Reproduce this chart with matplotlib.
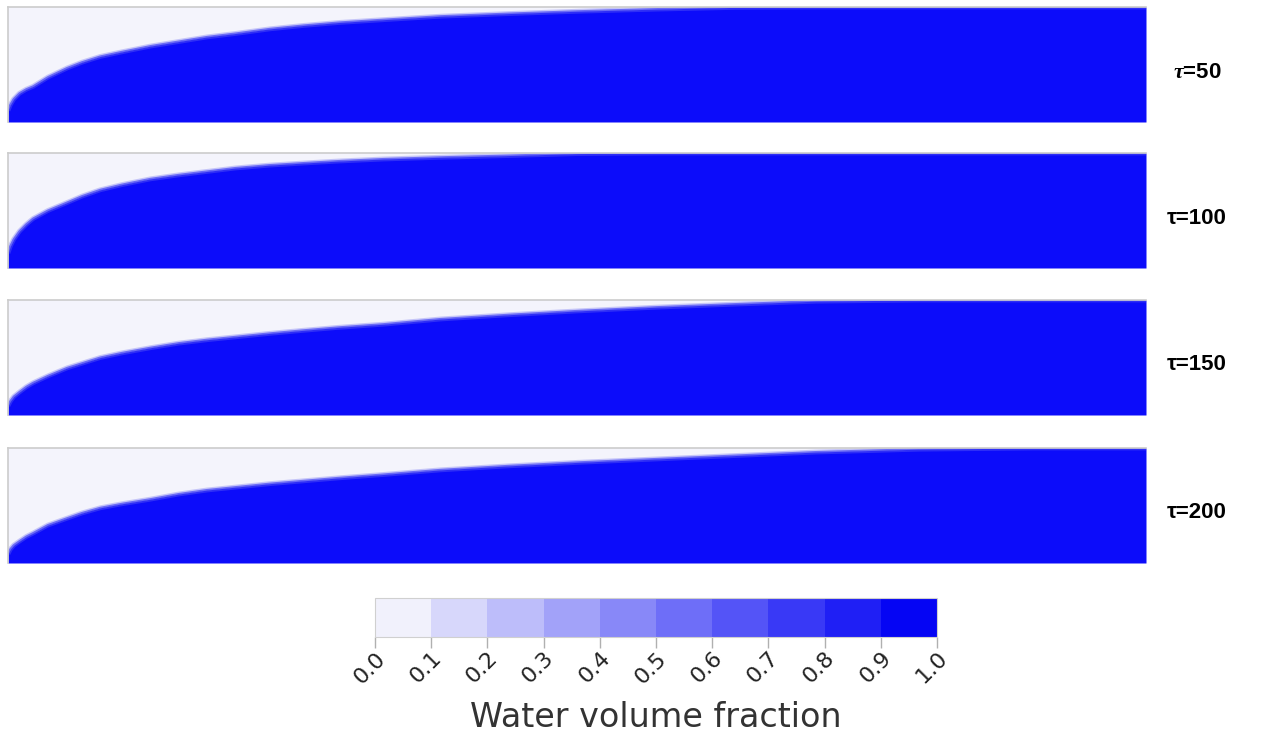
import numpy as np
import matplotlib.pyplot as plt
from matplotlib.colors import LinearSegmentedColormap, BoundaryNorm
from matplotlib.cm import ScalarMappable

plt.rcParams['mathtext.fontset'] = 'custom'
plt.rcParams['mathtext.it'] = 'Liberation Serif:italic:bold'

# position along the channel (0 = inlet wall, 1 = outlet)
length = [0, 0.002, 0.005, 0.01, 0.016, 0.022, 0.035, 0.052, 0.065, 0.081, 0.1,
          0.125, 0.15, 0.175, 0.2, 0.23, 0.26, 0.29, 0.33, 0.38, 0.44, 0.5,
          0.57, 0.64, 0.71, 0.8, 0.9, 1.0]

# height of the water front (fraction of channel height) for each time
front_50 = [0.10, 0.15, 0.20, 0.25, 0.285, 0.31, 0.39, 0.47, 0.52, 0.57, 0.61,
            0.66, 0.70, 0.74, 0.77, 0.81, 0.84, 0.865, 0.89, 0.92, 0.943, 0.963,
            0.982, 0.997, 1.0, 1.0, 1.0, 1.0]
front_100 = [0.13, 0.19, 0.25, 0.32, 0.38, 0.43, 0.50, 0.57, 0.625, 0.68, 0.725,
             0.775, 0.81, 0.84, 0.87, 0.895, 0.913, 0.93, 0.948, 0.963, 0.978, 0.995,
             1.0, 1.0, 1.0, 1.0, 1.0, 1.0]
front_150 = [0.08, 0.12, 0.16, 0.20, 0.245, 0.28, 0.34, 0.41, 0.45, 0.50, 0.54,
             0.585, 0.625, 0.655, 0.68, 0.71, 0.737, 0.762, 0.79, 0.835, 0.872, 0.905,
             0.938, 0.965, 0.99, 1.0, 1.0, 1.0]
front_200 = [0.08, 0.12, 0.155, 0.19, 0.23, 0.26, 0.33, 0.39, 0.435, 0.48, 0.515,
             0.555, 0.60, 0.635, 0.66, 0.69, 0.715, 0.74, 0.77, 0.81, 0.845, 0.875,
             0.905, 0.935, 0.965, 0.99, 1.0, 1.0]

labels = [r"$\tau$=50", "τ=100", "τ=150", "τ=200"]
fronts = [front_50, front_100, front_150, front_200]

levels = [0.0, 0.1, 0.2, 0.3, 0.4, 0.5, 0.6, 0.7, 0.8, 0.9, 1.0]

light = "#f4f4fc"
blue = "#0c0cfa"
cmap = LinearSegmentedColormap.from_list("water", ["#f1f1fc", "#0505f4"], N=10)

fig = plt.figure(figsize=(12.85, 7.43), dpi=100)

tops = [7, 153, 300, 448]
for top, front, lab in zip(tops, fronts, labels):
    ax = fig.add_axes([8 / 1285, 1 - (top + 115) / 743, 1138 / 1285, 115 / 743])
    ax.set_facecolor(light)
    ax.fill_between(length, 0, front, color=blue, lw=0)
    # soft edge of the front
    ax.plot(length, front, color="#7070f2", lw=3.5, alpha=0.35, solid_capstyle="butt")
    ax.plot(length, front, color="#3030f6", lw=1.5, alpha=0.6, solid_capstyle="butt")
    ax.set_xlim(0, 1)
    ax.set_ylim(0, 1)
    ax.set_xticks([])
    ax.set_yticks([])
    for s in ["right", "bottom"]:
        ax.spines[s].set_visible(False)
    for s in ["top", "left"]:
        ax.spines[s].set_color("#cccccc")
        ax.spines[s].set_linewidth(1.2)
    fig.text(1197 / 1285, 1 - (top + 65) / 743, lab, fontsize=16, fontweight="bold",
             family="Liberation Sans", ha="center", va="center")

cax = fig.add_axes([375 / 1285, 1 - 637 / 743, 562 / 1285, 39 / 743])
norm = BoundaryNorm(levels, cmap.N)
cb = fig.colorbar(ScalarMappable(norm=norm, cmap=cmap), cax=cax,
                  orientation="horizontal", ticks=levels)
cb.outline.set_edgecolor("#d0d0d0")
cb.ax.tick_params(length=8, color="#b0b0b0", width=1, pad=0)
cb.ax.set_xticklabels(["%.1f" % v for v in levels], rotation=45, ha="right",
                      rotation_mode="anchor", fontsize=16, color="#222222")
cb.set_label("Water volume fraction", fontsize=24, color="#333333", labelpad=10)

fig.savefig("out.png", dpi=100)
